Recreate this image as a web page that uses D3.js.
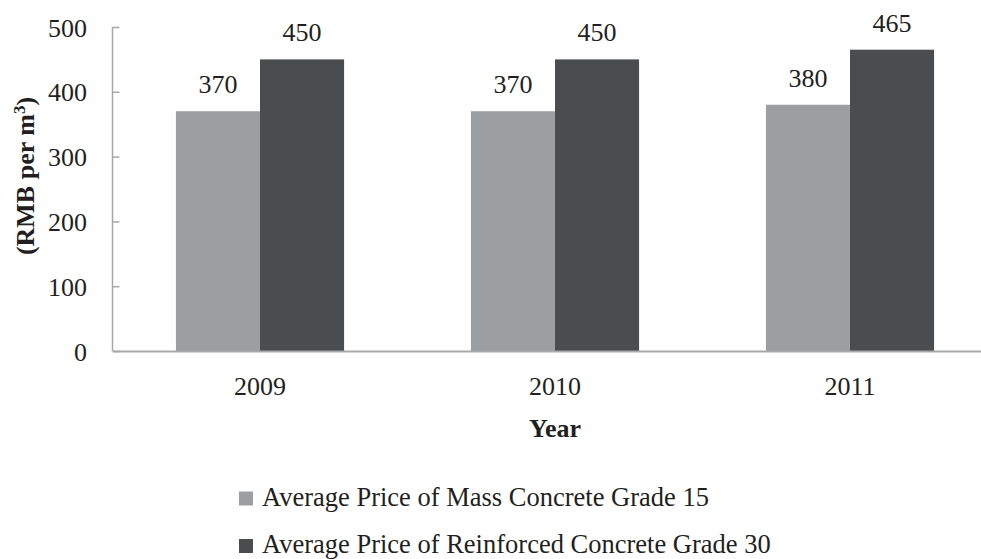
<!DOCTYPE html>
<html>
<head>
<meta charset="utf-8">
<script src="https://cdn.jsdelivr.net/npm/d3@7"></script>
<style>
  html, body { margin: 0; padding: 0; background: #fff; }
  svg { display: block; }
  svg text { font-family: "Liberation Serif", "Times New Roman", serif; }
</style>
</head>
<body>
<svg id="chart" width="981" height="559"></svg>
<script>
// Concrete prices by year (RMB per cubic metre)
const years = ["2009", "2010", "2011"];
const seriesNames = [
  "Average Price of Mass Concrete Grade 15",
  "Average Price of Reinforced Concrete Grade 30"
];
const massGrade15 = [370, 370, 380];
const reinforcedGrade30 = [450, 450, 465];
const yTicks = [0, 100, 200, 300, 400, 500];
const seriesColors = ["#9d9ea2", "#4b4c4e"];

const svg = d3.select("#chart");
const textColor = "#231f20";
const axisColor = "#a7a8ab";
const fontSize = 26;

const plot = { left: 112.5, right: 997.5, top: 27, bottom: 351 };

const x = d3.scaleBand()
  .domain(years)
  .range([plot.left, plot.right])
  .paddingInner(0.43)
  .paddingOuter(0.215);

const x1 = d3.scaleBand()
  .domain([0, 1])
  .range([0, x.bandwidth()]);

const y = d3.scaleLinear()
  .domain([0, 500])
  .range([plot.bottom, plot.top]);

const rows = years.map((yr, i) => ({ year: yr, values: [massGrade15[i], reinforcedGrade30[i]] }));

// Bars
const groups = svg.append("g")
  .selectAll("g")
  .data(rows)
  .join("g")
  .attr("transform", d => `translate(${x(d.year)},0)`);

groups.selectAll("rect")
  .data(d => d.values.map((v, k) => ({ v, k })))
  .join("rect")
  .attr("x", d => x1(d.k))
  .attr("width", x1.bandwidth())
  .attr("y", d => y(d.v))
  .attr("height", d => y(0) - y(d.v))
  .attr("fill", d => seriesColors[d.k]);

// Value labels above each bar
groups.selectAll("text")
  .data(d => d.values.map((v, k) => ({ v, k })))
  .join("text")
  .attr("x", d => x1(d.k) + x1.bandwidth() / 2)
  .attr("y", d => y(d.v) - 18)
  .attr("text-anchor", "middle")
  .attr("font-size", fontSize)
  .attr("fill", textColor)
  .text(d => d.v);

// Y axis: line with inward ticks
const yAxis = svg.append("g")
  .attr("transform", `translate(${plot.left},0)`)
  .call(d3.axisRight(y).tickValues(yTicks).tickSize(7).tickFormat(""));
yAxis.select(".domain").attr("stroke", axisColor).attr("stroke-width", 1.5)
  .attr("d", `M0,${plot.top}V${plot.bottom}`);
yAxis.selectAll(".tick line").attr("stroke", axisColor).attr("stroke-width", 1.5);

svg.append("g")
  .selectAll("text")
  .data(yTicks)
  .join("text")
  .attr("x", 87)
  .attr("y", d => y(d) + 9.5)
  .attr("text-anchor", "end")
  .attr("font-size", fontSize)
  .attr("fill", textColor)
  .text(d => d);

// X axis
const xAxis = svg.append("g")
  .attr("transform", `translate(0,${plot.bottom})`)
  .call(d3.axisBottom(x).tickSize(0).tickPadding(0));
xAxis.select(".domain").attr("stroke", axisColor).attr("stroke-width", 2);
xAxis.selectAll(".tick text")
  .attr("y", 44)
  .attr("dy", null)
  .attr("font-family", "Liberation Serif, serif")
  .attr("font-size", fontSize)
  .attr("fill", textColor);

// Axis titles
svg.append("text")
  .attr("x", x("2010") + x.bandwidth() / 2)
  .attr("y", 437)
  .attr("text-anchor", "middle")
  .attr("font-size", fontSize)
  .attr("font-weight", "bold")
  .attr("fill", textColor)
  .text("Year");

const yTitle = svg.append("text")
  .attr("transform", "translate(34,176) rotate(-90)")
  .attr("text-anchor", "middle")
  .attr("font-size", fontSize)
  .attr("font-weight", "bold")
  .attr("fill", textColor);
yTitle.append("tspan").text("(RMB per m");
yTitle.append("tspan").attr("baseline-shift", "super").attr("font-size", 17).text("3");
yTitle.append("tspan").text(")");

// Legend
const legend = svg.append("g")
  .selectAll("g")
  .data(seriesNames)
  .join("g")
  .attr("transform", (d, i) => `translate(239,${505.5 + i * 47.5})`);
legend.append("rect")
  .attr("x", 0)
  .attr("y", -14)
  .attr("width", 14)
  .attr("height", 14)
  .attr("fill", (d, i) => seriesColors[i]);
legend.append("text")
  .attr("x", 23)
  .attr("font-size", 26.5)
  .attr("fill", textColor)
  .text(d => d);
</script>
</body>
</html>
